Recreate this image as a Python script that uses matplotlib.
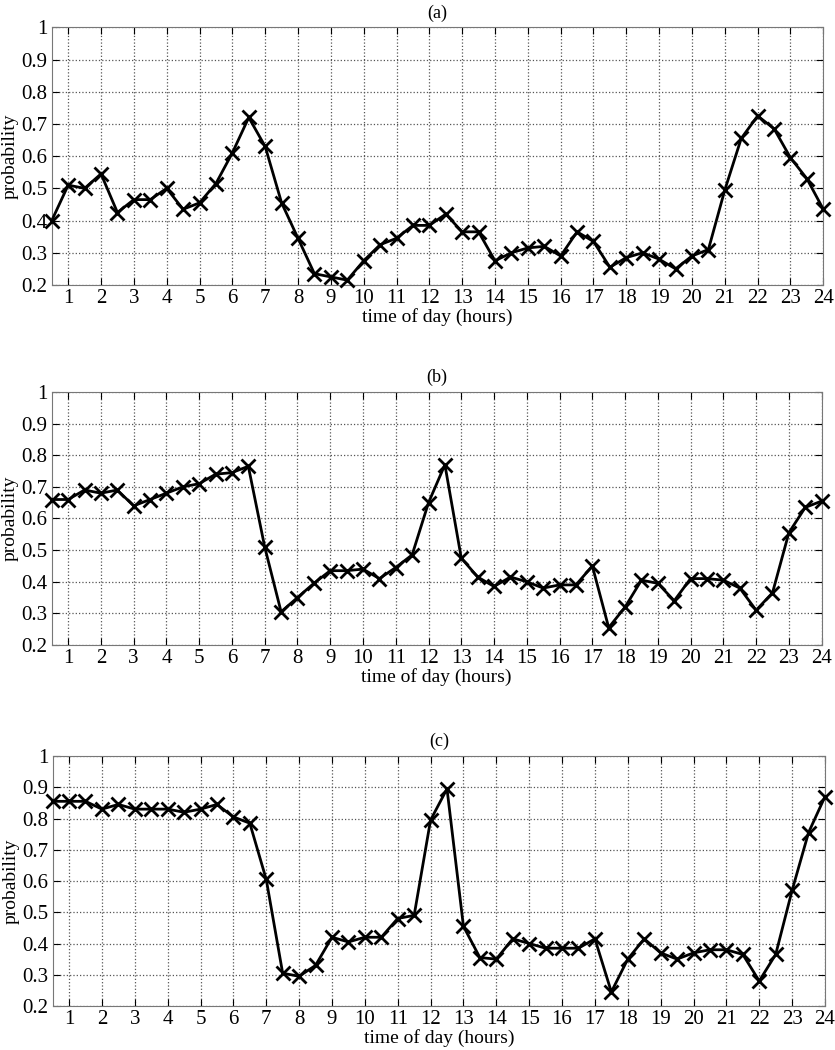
import matplotlib
matplotlib.use("Agg")
import matplotlib.pyplot as plt
import numpy as np

plt.rcParams['font.family'] = ['Liberation Serif', 'DejaVu Serif']

# half-hour slots 0.5 .. 24
hours = [i * 0.5 for i in range(1, 49)]

prob_a = [0.40, 0.51, 0.50, 0.545, 0.425, 0.465, 0.465, 0.50, 0.435, 0.455,
          0.515, 0.61, 0.72, 0.63, 0.455, 0.345, 0.235, 0.225, 0.215, 0.275,
          0.325, 0.345, 0.385, 0.385, 0.42, 0.365, 0.365, 0.275, 0.30, 0.315,
          0.32, 0.29, 0.365, 0.335, 0.255, 0.285, 0.30, 0.28, 0.25, 0.29,
          0.31, 0.495, 0.655, 0.725, 0.685, 0.595, 0.53, 0.435]

prob_b = [0.66, 0.66, 0.69, 0.68, 0.69, 0.64, 0.66, 0.68, 0.70, 0.71,
          0.74, 0.745, 0.765, 0.51, 0.305, 0.35, 0.395, 0.435, 0.435, 0.44,
          0.41, 0.445, 0.485, 0.65, 0.77, 0.475, 0.415, 0.385, 0.415, 0.40,
          0.38, 0.39, 0.39, 0.45, 0.255, 0.32, 0.405, 0.395, 0.34, 0.41,
          0.41, 0.405, 0.38, 0.31, 0.365, 0.555, 0.635, 0.655]

prob_c = [0.855, 0.855, 0.855, 0.83, 0.845, 0.83, 0.83, 0.83, 0.82, 0.83,
          0.845, 0.805, 0.785, 0.605, 0.305, 0.295, 0.33, 0.42, 0.405, 0.42,
          0.42, 0.48, 0.49, 0.795, 0.895, 0.455, 0.355, 0.35, 0.415, 0.40,
          0.385, 0.385, 0.385, 0.415, 0.245, 0.35, 0.415, 0.37, 0.35, 0.37,
          0.38, 0.38, 0.365, 0.28, 0.365, 0.57, 0.755, 0.87]

titles = ['(a)', '(b)', '(c)']
xticks = list(range(1, 25))
yticks = [0.2, 0.3, 0.4, 0.5, 0.6, 0.7, 0.8, 0.9, 1]
ytick_labels = ['0.2', '0.3', '0.4', '0.5', '0.6', '0.7', '0.8', '0.9', '1']

fig = plt.figure(figsize=(8.35, 10.5), dpi=100)
boxes = [[0.062, 0.7286, 0.924, 0.2454],
         [0.062, 0.3857, 0.922, 0.2410],
         [0.063, 0.0419, 0.925, 0.2381]]

for box, data, title in zip(boxes, [prob_a, prob_b, prob_c], titles):
    ax = fig.add_axes(box)
    ax.plot(hours, data, '-x', color='black', lw=2, ms=10, mew=2, clip_on=False, zorder=3)
    ax.set_xlim(0.5, 24)
    ax.set_ylim(0.2, 1)
    ax.set_xticks(xticks)
    ax.set_yticks(yticks)
    ax.set_yticklabels(ytick_labels)
    ax.grid(True, linestyle=':', color='#555555', linewidth=0.9)
    ax.tick_params(direction='in', top=True, right=True, labelsize=15, length=5, pad=3)
    for s in ax.spines.values():
        s.set_color('#777777')
    ax.set_xlabel('time of day (hours)', fontsize=14, labelpad=0)
    ax.set_ylabel('probability', fontsize=14, labelpad=2)
    ax.set_title(title, fontsize=13, pad=7)

fig.savefig('out.png', dpi=100)
